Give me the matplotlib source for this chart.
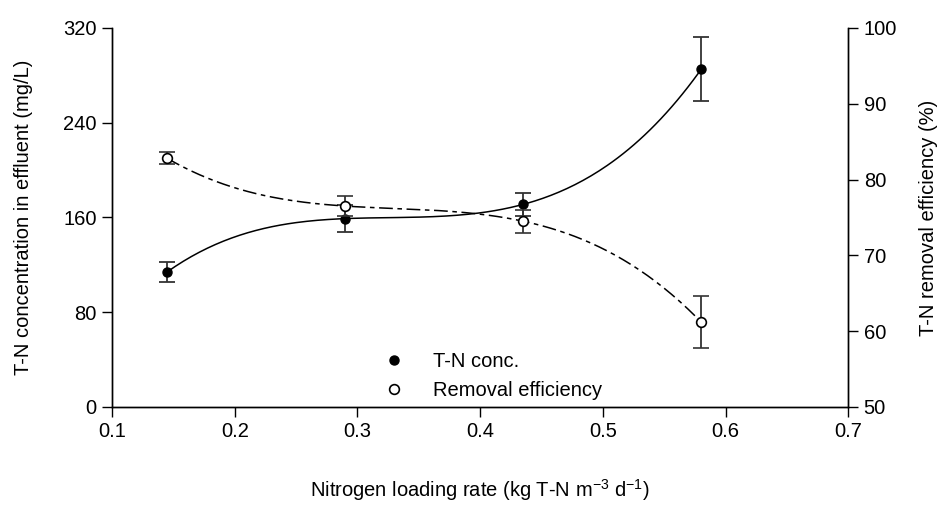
import numpy as np
import matplotlib
matplotlib.use("Agg")
import matplotlib.pyplot as plt
from matplotlib.lines import Line2D

plt.rcParams['font.family'] = ['Liberation Sans', 'DejaVu Sans']
plt.rcParams['mathtext.fontset'] = 'custom'
plt.rcParams['mathtext.rm'] = 'Liberation Sans'
plt.rcParams['mathtext.it'] = 'Liberation Sans'

loading_rate = [0.145, 0.29, 0.435, 0.58]
tn_conc = [114, 159, 171, 285]
tn_conc_err = [8.5, 11.5, 10, 27]
removal_eff = [82.8, 76.5, 74.5, 61.2]
removal_eff_err = [0.8, 1.3, 1.5, 3.4]

x_ticks = [0.1, 0.2, 0.3, 0.4, 0.5, 0.6, 0.7]
y_left_ticks = [0, 80, 160, 240, 320]
y_right_ticks = [50, 60, 70, 80, 90, 100]

FS = 14.5

fig = plt.figure(figsize=(9.49, 5.08), dpi=100)
ax = fig.add_axes([0.118, 0.199, 0.776, 0.746])
ax2 = ax.twinx()

xs = np.linspace(min(loading_rate), max(loading_rate), 200)
c1 = np.polyfit(loading_rate, tn_conc, 3)
c2 = np.polyfit(loading_rate, removal_eff, 3)

ax.plot(xs, np.polyval(c1, xs), color='black', lw=1.1)
ax.errorbar(loading_rate, tn_conc, yerr=tn_conc_err, fmt='o', color='black',
            ecolor='#333333', elinewidth=1.3, capsize=5.5, capthick=1.3,
            markersize=6.5, zorder=5)

ax2.plot(xs, np.polyval(c2, xs), color='black', lw=1.1, dashes=(9, 3, 3, 3))
ax2.errorbar(loading_rate, removal_eff, yerr=removal_eff_err, fmt='o',
             mfc='white', mec='black', mew=1.2, color='black',
             ecolor='#333333', elinewidth=1.3, capsize=5.5, capthick=1.3,
             markersize=7, zorder=5)

ax.set_xlim(0.1, 0.7)
ax.set_ylim(0, 320)
ax2.set_ylim(50, 100)
ax.set_xticks(x_ticks)
ax.set_xticklabels([f"{t:.1f}" for t in x_ticks])
ax.set_yticks(y_left_ticks)
ax2.set_yticks(y_right_ticks)

for a in (ax, ax2):
    a.spines['top'].set_visible(False)
    a.tick_params(direction='out', length=7, width=1, labelsize=FS, pad=4)
    for s in a.spines.values():
        s.set_linewidth(1)

ax.set_xlabel('Nitrogen loading rate (kg T-N m$^{-3}$ d$^{-1}$)', fontsize=FS, labelpad=26)
ax.set_ylabel('T-N concentration in effluent (mg/L)', fontsize=FS, labelpad=22)
ax2.set_ylabel('T-N removal efficiency (%)', fontsize=FS, labelpad=16)

handles = [Line2D([], [], ls='none', marker='o', color='black', markersize=6.5),
           Line2D([], [], ls='none', marker='o', mfc='white', mec='black', mew=1.2, markersize=7)]
ax.legend(handles, ['T-N conc.', 'Removal efficiency'], frameon=False,
          loc='lower left', bbox_to_anchor=(0.35, -0.02), fontsize=FS,
          handlelength=1.0, handletextpad=1.45, labelspacing=0.5, borderaxespad=0.3)

fig.savefig('out.png', dpi=100)
